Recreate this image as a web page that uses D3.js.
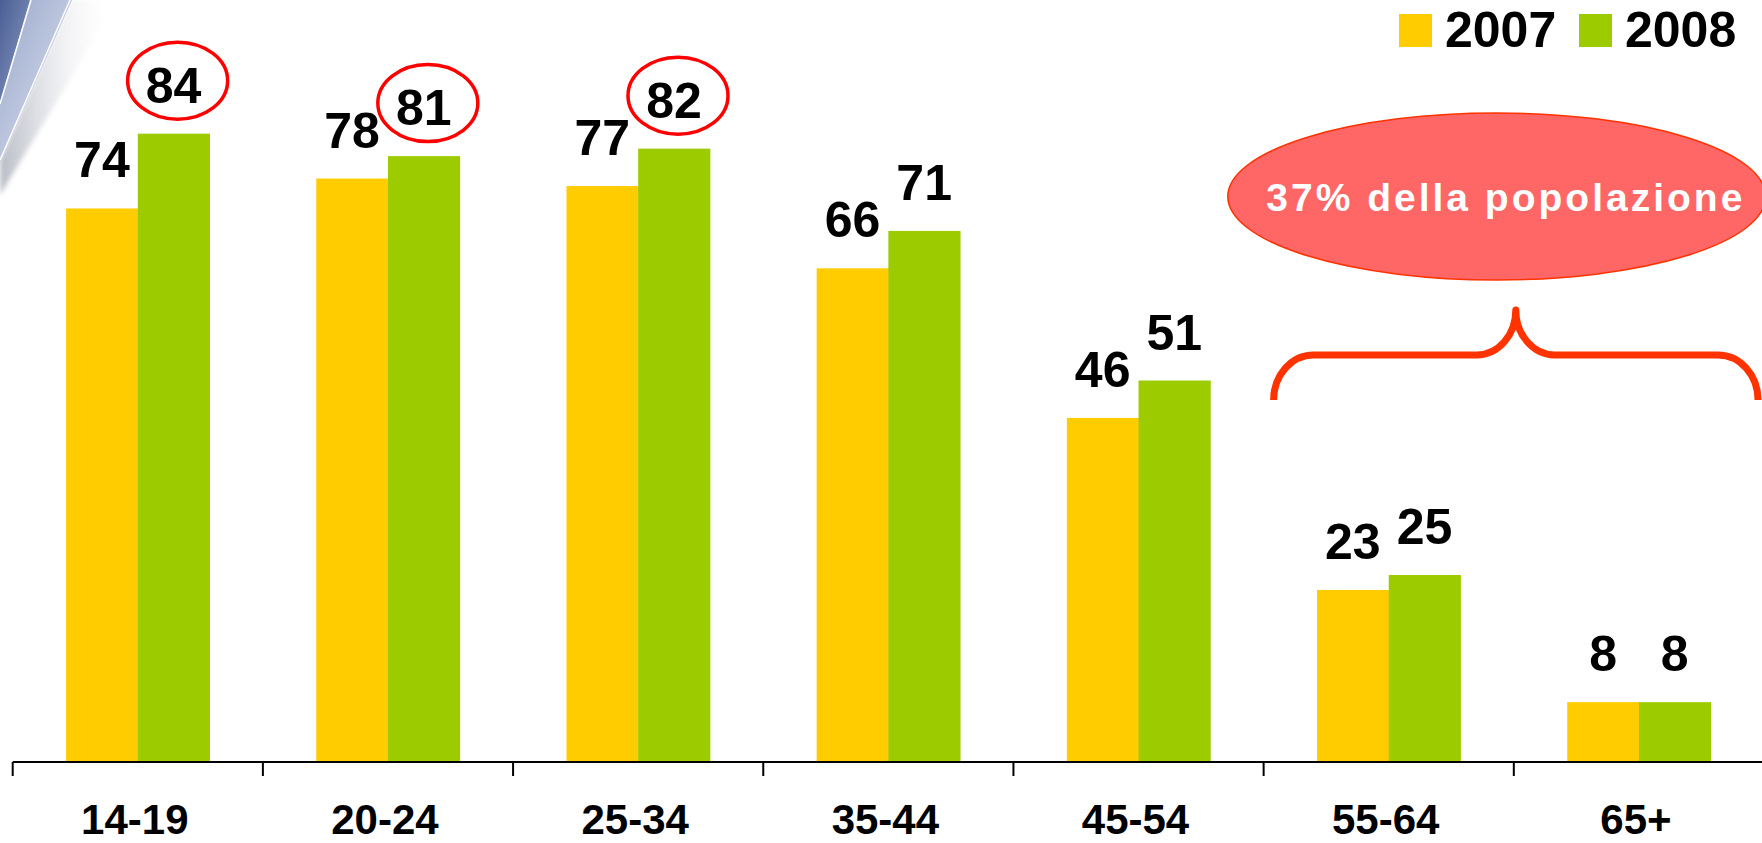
<!DOCTYPE html>
<html>
<head>
<meta charset="utf-8">
<script src="https://cdn.jsdelivr.net/npm/d3@7/dist/d3.min.js"></script>
<style>
  html, body { margin: 0; padding: 0; background: #ffffff; }
  svg { display: block; }
  text { font-family: "Liberation Sans", Arial, Helvetica, sans-serif; font-weight: bold; }
</style>
</head>
<body>
<div id="chart"></div>
<script>
// Age groups on the x axis
const categories = ["14-19", "20-24", "25-34", "35-44", "45-54", "55-64", "65+"];
// Series: one value per age group
const seriesNames = ["2007", "2008"];
const values2007 = [74, 78, 77, 66, 46, 23, 8];
const values2008 = [84, 81, 82, 71, 51, 25, 8];
const seriesColors = ["#ffcc00", "#9ccc00"];
// Values circled in red
const highlighted2008 = ["14-19", "20-24", "25-34"];
// Bracketed groups and callout text
const bracketGroups = ["55-64", "65+"];
const calloutText = "37% della popolazione";

const W = 1762, H = 843;
const svg = d3.select("#chart").append("svg")
  .attr("width", W).attr("height", H);

svg.append("rect").attr("width", W).attr("height", H).attr("fill", "#ffffff");

// ---- corner decoration (slide background swoosh) ----
const defs = svg.append("defs");
const gBlue = defs.append("linearGradient").attr("id", "gBlue")
  .attr("x1", "0").attr("y1", "0").attr("x2", "1").attr("y2", "1");
gBlue.append("stop").attr("offset", "0").attr("stop-color", "#4a5f95");
gBlue.append("stop").attr("offset", "1").attr("stop-color", "#8d9cc3");
const gLight = defs.append("linearGradient").attr("id", "gLight")
  .attr("x1", "0").attr("y1", "0").attr("x2", "1").attr("y2", "1");
gLight.append("stop").attr("offset", "0").attr("stop-color", "#9aa8cc");
gLight.append("stop").attr("offset", "1").attr("stop-color", "#dfe4ef");
const gShade = defs.append("linearGradient").attr("id", "gShade")
  .attr("x1", "0").attr("y1", "0").attr("x2", "1").attr("y2", "0");
gShade.append("stop").attr("offset", "0").attr("stop-color", "#b9bcc6");
gShade.append("stop").attr("offset", "1").attr("stop-color", "#ffffff").attr("stop-opacity", 0);
defs.append("filter").attr("id", "soft")
  .append("feGaussianBlur").attr("stdDeviation", 2.5);

const deco = svg.append("g");
deco.append("polygon").attr("points", "70,0 118,0 0,195 0,160")
  .attr("fill", "url(#gShade)").attr("filter", "url(#soft)");
deco.append("polygon").attr("points", "30,0 72,0 0,162 0,104").attr("fill", "url(#gLight)");
deco.append("polygon").attr("points", "0,0 30,0 0,104").attr("fill", "url(#gBlue)");
deco.append("line").attr("x1", 31).attr("y1", 0).attr("x2", 0).attr("y2", 104)
  .attr("stroke", "#ffffff").attr("stroke-width", 1.5);
deco.append("line").attr("x1", 70).attr("y1", 0).attr("x2", 0).attr("y2", 160)
  .attr("stroke", "#ffffff").attr("stroke-width", 1.5);

// ---- scales ----
const x = d3.scaleBand().domain(categories).range([12.7, 1764]).padding(0);
const xs = d3.scaleBand().domain(seriesNames).range([0, x.bandwidth()])
  .paddingInner(0).paddingOuter(0.745);
const y = d3.scaleLinear().domain([0, 100]).range([762, 14]);

const rows = categories.map((c, i) => ({ cat: c, vals: [values2007[i], values2008[i]] }));

// ---- bars ----
const groups = svg.append("g").selectAll("g").data(rows).join("g")
  .attr("transform", d => `translate(${x(d.cat)},0)`);

groups.selectAll("rect").data(d => d.vals.map((v, j) => ({ s: seriesNames[j], v, j })))
  .join("rect")
  .attr("x", d => xs(d.s))
  .attr("y", d => y(d.v))
  .attr("width", xs.bandwidth() + 0.5)
  .attr("height", d => y(0) - y(d.v))
  .attr("fill", d => seriesColors[d.j]);

// ---- value labels ----
groups.selectAll("text.val").data(d => d.vals.map((v, j) => ({ s: seriesNames[j], v, j, cat: d.cat })))
  .join("text").attr("class", "val")
  .attr("x", d => xs(d.s) + xs.bandwidth() / 2)
  .attr("y", d => y(d.v) - 31)
  .attr("text-anchor", "middle")
  .attr("font-size", 50)
  .attr("fill", "#000")
  .text(d => d.v);

// ---- red rings around highlighted 2008 values ----
groups.filter(d => highlighted2008.includes(d.cat))
  .append("ellipse")
  .attr("cx", xs("2008") + xs.bandwidth() / 2 + 4)
  .attr("cy", d => y(d.vals[1]) - 31 - 18 - 4)
  .attr("rx", 50).attr("ry", 38.5)
  .attr("fill", "none").attr("stroke", "#ff0000").attr("stroke-width", 3.5);

// ---- x axis ----
const axis = svg.append("g");
axis.append("line")
  .attr("x1", x.range()[0]).attr("x2", W)
  .attr("y1", y(0)).attr("y2", y(0))
  .attr("stroke", "#000").attr("stroke-width", 2.2);
axis.selectAll("line.tick").data(categories).join("line").attr("class", "tick")
  .attr("x1", d => x(d)).attr("x2", d => x(d))
  .attr("y1", y(0)).attr("y2", y(0) + 14)
  .attr("stroke", "#000").attr("stroke-width", 2);
axis.selectAll("text.cat").data(categories).join("text").attr("class", "cat")
  .attr("x", d => x(d) + x.bandwidth() / 2 - 3)
  .attr("y", 834)
  .attr("text-anchor", "middle")
  .attr("font-size", 42)
  .attr("fill", "#000")
  .text(d => d);

// ---- legend ----
const legend = svg.append("g");
const legendX = [1399, 1579];
seriesNames.forEach((s, i) => {
  legend.append("rect").attr("x", legendX[i]).attr("y", 14)
    .attr("width", 33).attr("height", 33).attr("fill", seriesColors[i]);
  legend.append("text").attr("x", legendX[i] + 46).attr("y", 47)
    .attr("font-size", 50).attr("fill", "#000").text(s);
});

// ---- bracket over the older groups with callout ----
const bx0 = x(bracketGroups[0]) + 10;
const bx1 = x(bracketGroups[bracketGroups.length - 1]) + x.bandwidth() - 6;
const bm = (bx0 + bx1) / 2;
const by = 400, bh = 355, bt = 310;
const bracePath = `M${bx0},${by} A40,45 0 0 1 ${bx0 + 40},${bh} L${bm - 39},${bh} ` +
  `A39,45 0 0 0 ${bm},${bt} A39,45 0 0 0 ${bm + 39},${bh} L${bx1 - 40},${bh} ` +
  `A40,45 0 0 1 ${bx1},${by}`;
svg.append("path").attr("d", bracePath)
  .attr("fill", "none").attr("stroke", "#ff3300").attr("stroke-width", 7)
  .attr("stroke-linejoin", "round");

svg.append("ellipse")
  .attr("cx", bm - 19).attr("cy", 196.5).attr("rx", 269).attr("ry", 83.5)
  .attr("fill", "#ff6666").attr("stroke", "#ff3300").attr("stroke-width", 1.5);
svg.append("text")
  .attr("x", bm - 10).attr("y", 211)
  .attr("text-anchor", "middle")
  .attr("font-size", 39)
  .attr("letter-spacing", "3px")
  .attr("fill", "#ffffff")
  .text(calloutText);
</script>
</body>
</html>
